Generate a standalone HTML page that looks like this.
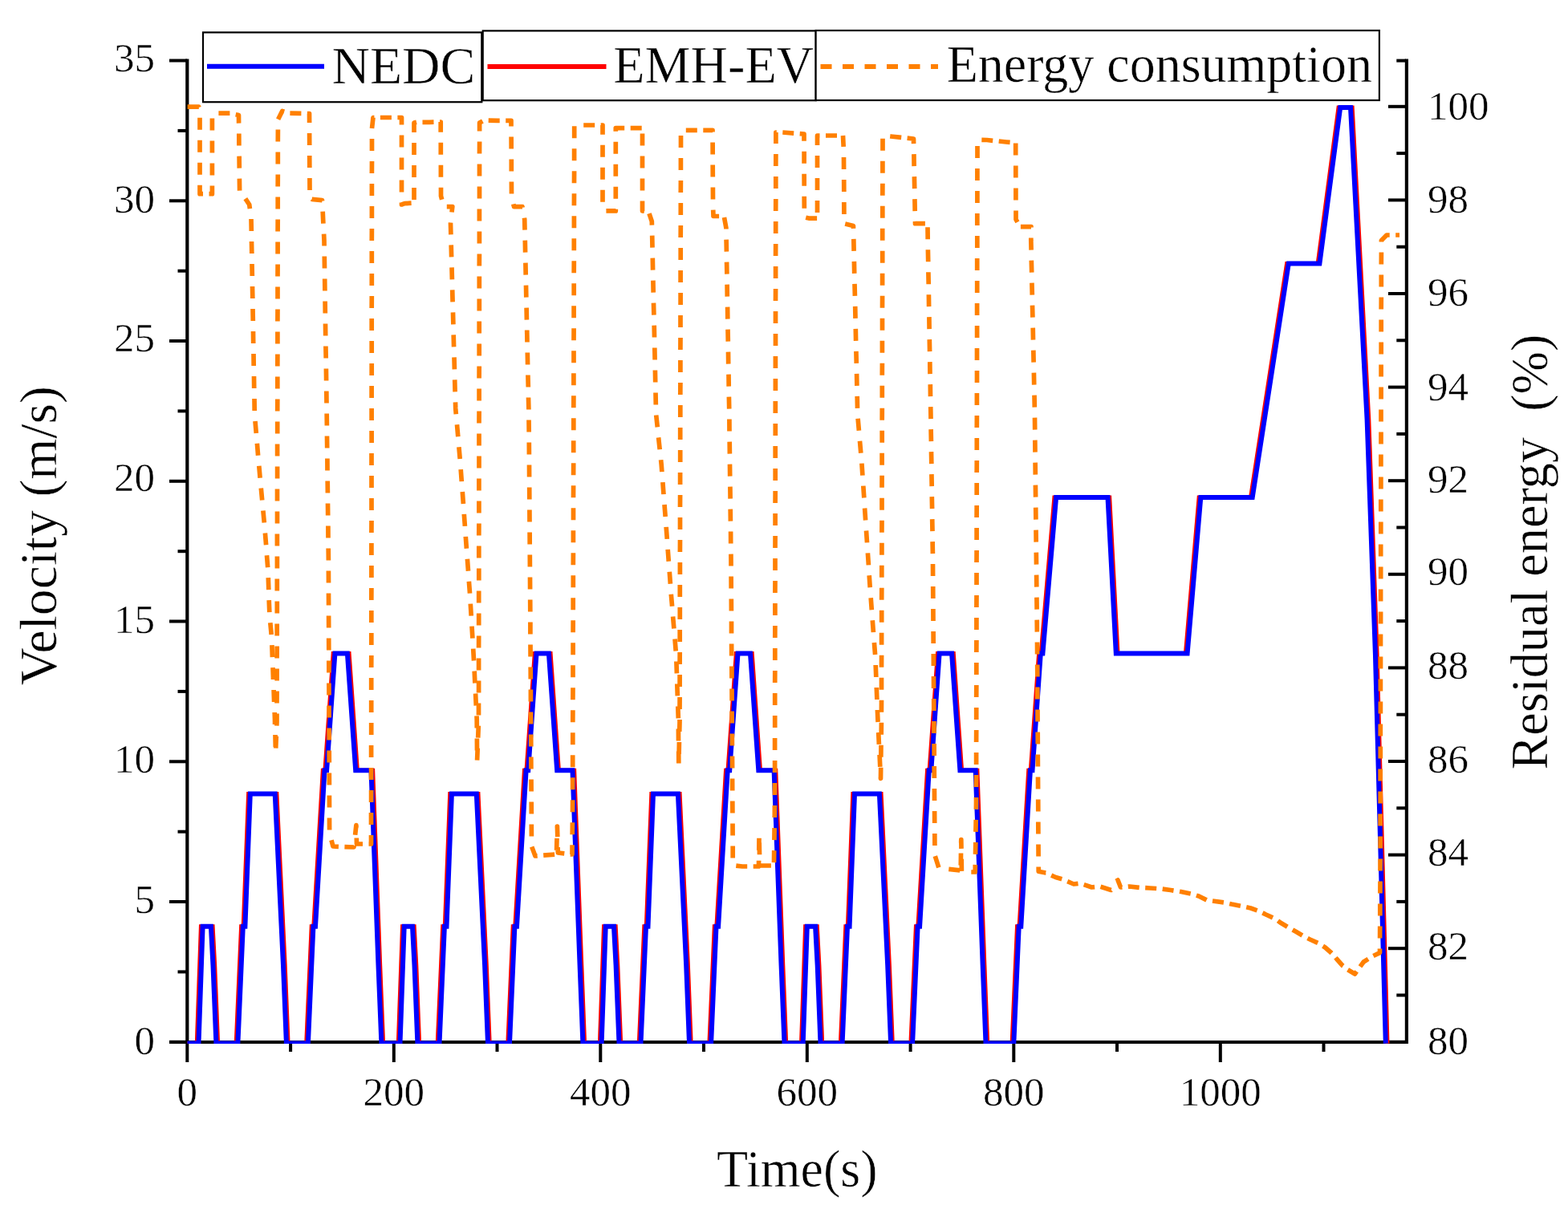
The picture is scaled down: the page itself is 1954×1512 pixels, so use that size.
<!DOCTYPE html>
<html><head><meta charset="utf-8"><title>NEDC velocity and residual energy</title>
<style>
html,body{margin:0;padding:0;background:#fff;}
body{width:1954px;height:1512px;overflow:hidden;}
svg{display:block;}
text{font-family:'Liberation Serif','Times New Roman',serif;fill:#000;stroke:#fff;stroke-width:0.5px;paint-order:normal;}
</style></head><body>
<svg width="1954" height="1512" viewBox="0 0 1954 1512">
<rect x="0" y="0" width="1954" height="1512" fill="#fff"/>
<line x1="233.3" y1="73.6" x2="233.3" y2="1301" stroke="#000" stroke-width="4.2" fill="none"/>
<line x1="1752.9" y1="73.6" x2="1752.9" y2="1301" stroke="#000" stroke-width="4.2" fill="none"/>
<line x1="211" y1="1299" x2="1755" y2="1299" stroke="#000" stroke-width="4.2" fill="none"/>
<line x1="211" y1="1298.8" x2="233" y2="1298.8" stroke="#000" stroke-width="4" fill="none"/>
<line x1="211" y1="1124.0" x2="233" y2="1124.0" stroke="#000" stroke-width="4" fill="none"/>
<line x1="211" y1="949.3" x2="233" y2="949.3" stroke="#000" stroke-width="4" fill="none"/>
<line x1="211" y1="774.5" x2="233" y2="774.5" stroke="#000" stroke-width="4" fill="none"/>
<line x1="211" y1="599.8" x2="233" y2="599.8" stroke="#000" stroke-width="4" fill="none"/>
<line x1="211" y1="425.0" x2="233" y2="425.0" stroke="#000" stroke-width="4" fill="none"/>
<line x1="211" y1="250.3" x2="233" y2="250.3" stroke="#000" stroke-width="4" fill="none"/>
<line x1="211" y1="75.5" x2="233" y2="75.5" stroke="#000" stroke-width="4" fill="none"/>
<line x1="221.5" y1="1211.4" x2="233" y2="1211.4" stroke="#000" stroke-width="4" fill="none"/>
<line x1="221.5" y1="1036.7" x2="233" y2="1036.7" stroke="#000" stroke-width="4" fill="none"/>
<line x1="221.5" y1="861.9" x2="233" y2="861.9" stroke="#000" stroke-width="4" fill="none"/>
<line x1="221.5" y1="687.2" x2="233" y2="687.2" stroke="#000" stroke-width="4" fill="none"/>
<line x1="221.5" y1="512.4" x2="233" y2="512.4" stroke="#000" stroke-width="4" fill="none"/>
<line x1="221.5" y1="337.7" x2="233" y2="337.7" stroke="#000" stroke-width="4" fill="none"/>
<line x1="221.5" y1="162.9" x2="233" y2="162.9" stroke="#000" stroke-width="4" fill="none"/>
<text x="193" y="88.5" font-size="51" text-anchor="end">35</text>
<text x="193" y="264.5" font-size="51" text-anchor="end">30</text>
<text x="193" y="438" font-size="51" text-anchor="end">25</text>
<text x="193" y="612.4" font-size="51" text-anchor="end">20</text>
<text x="193" y="789.3" font-size="51" text-anchor="end">15</text>
<text x="193" y="963" font-size="51" text-anchor="end">10</text>
<text x="193" y="1138" font-size="51" text-anchor="end">5</text>
<text x="193" y="1314.2" font-size="51" text-anchor="end">0</text>
<line x1="233.3" y1="1299" x2="233.3" y2="1324" stroke="#000" stroke-width="4" fill="none"/>
<line x1="362.1" y1="1299" x2="362.1" y2="1311" stroke="#000" stroke-width="4" fill="none"/>
<line x1="490.8" y1="1299" x2="490.8" y2="1324" stroke="#000" stroke-width="4" fill="none"/>
<line x1="619.5" y1="1299" x2="619.5" y2="1311" stroke="#000" stroke-width="4" fill="none"/>
<line x1="748.3" y1="1299" x2="748.3" y2="1324" stroke="#000" stroke-width="4" fill="none"/>
<line x1="877.0" y1="1299" x2="877.0" y2="1311" stroke="#000" stroke-width="4" fill="none"/>
<line x1="1005.8" y1="1299" x2="1005.8" y2="1324" stroke="#000" stroke-width="4" fill="none"/>
<line x1="1134.6" y1="1299" x2="1134.6" y2="1311" stroke="#000" stroke-width="4" fill="none"/>
<line x1="1263.3" y1="1299" x2="1263.3" y2="1324" stroke="#000" stroke-width="4" fill="none"/>
<line x1="1392.0" y1="1299" x2="1392.0" y2="1311" stroke="#000" stroke-width="4" fill="none"/>
<line x1="1520.8" y1="1299" x2="1520.8" y2="1324" stroke="#000" stroke-width="4" fill="none"/>
<line x1="1649.5" y1="1299" x2="1649.5" y2="1311" stroke="#000" stroke-width="4" fill="none"/>
<text x="233.3" y="1378" font-size="51" text-anchor="middle">0</text>
<text x="490.8" y="1378" font-size="51" text-anchor="middle">200</text>
<text x="748.3" y="1378" font-size="51" text-anchor="middle">400</text>
<text x="1005.8" y="1378" font-size="51" text-anchor="middle">600</text>
<text x="1263.3" y="1378" font-size="51" text-anchor="middle">800</text>
<text x="1520.8" y="1378" font-size="51" text-anchor="middle">1000</text>
<line x1="1730" y1="1298.8" x2="1752" y2="1298.8" stroke="#000" stroke-width="4" fill="none"/>
<line x1="1740.3" y1="1240.5" x2="1752" y2="1240.5" stroke="#000" stroke-width="4" fill="none"/>
<line x1="1730" y1="1182.2" x2="1752" y2="1182.2" stroke="#000" stroke-width="4" fill="none"/>
<line x1="1740.3" y1="1123.9" x2="1752" y2="1123.9" stroke="#000" stroke-width="4" fill="none"/>
<line x1="1730" y1="1065.6" x2="1752" y2="1065.6" stroke="#000" stroke-width="4" fill="none"/>
<line x1="1740.3" y1="1007.3" x2="1752" y2="1007.3" stroke="#000" stroke-width="4" fill="none"/>
<line x1="1730" y1="949.0" x2="1752" y2="949.0" stroke="#000" stroke-width="4" fill="none"/>
<line x1="1740.3" y1="890.7" x2="1752" y2="890.7" stroke="#000" stroke-width="4" fill="none"/>
<line x1="1730" y1="832.4" x2="1752" y2="832.4" stroke="#000" stroke-width="4" fill="none"/>
<line x1="1740.3" y1="774.1" x2="1752" y2="774.1" stroke="#000" stroke-width="4" fill="none"/>
<line x1="1730" y1="715.8" x2="1752" y2="715.8" stroke="#000" stroke-width="4" fill="none"/>
<line x1="1740.3" y1="657.5" x2="1752" y2="657.5" stroke="#000" stroke-width="4" fill="none"/>
<line x1="1730" y1="599.2" x2="1752" y2="599.2" stroke="#000" stroke-width="4" fill="none"/>
<line x1="1740.3" y1="540.9" x2="1752" y2="540.9" stroke="#000" stroke-width="4" fill="none"/>
<line x1="1730" y1="482.6" x2="1752" y2="482.6" stroke="#000" stroke-width="4" fill="none"/>
<line x1="1740.3" y1="424.3" x2="1752" y2="424.3" stroke="#000" stroke-width="4" fill="none"/>
<line x1="1730" y1="366.0" x2="1752" y2="366.0" stroke="#000" stroke-width="4" fill="none"/>
<line x1="1740.3" y1="307.7" x2="1752" y2="307.7" stroke="#000" stroke-width="4" fill="none"/>
<line x1="1730" y1="249.4" x2="1752" y2="249.4" stroke="#000" stroke-width="4" fill="none"/>
<line x1="1740.3" y1="191.1" x2="1752" y2="191.1" stroke="#000" stroke-width="4" fill="none"/>
<line x1="1730" y1="132.8" x2="1752" y2="132.8" stroke="#000" stroke-width="4" fill="none"/>
<line x1="1740.3" y1="75.6" x2="1752" y2="75.6" stroke="#000" stroke-width="4" fill="none"/>
<text x="1779" y="148.5" font-size="51">100</text>
<text x="1779" y="264.5" font-size="51">98</text>
<text x="1779" y="380.9" font-size="51">96</text>
<text x="1779" y="498.5" font-size="51">94</text>
<text x="1779" y="614.3" font-size="51">92</text>
<text x="1779" y="729.1" font-size="51">90</text>
<text x="1779" y="846" font-size="51">88</text>
<text x="1779" y="962.8" font-size="51">86</text>
<text x="1779" y="1079.3" font-size="51">84</text>
<text x="1779" y="1195.9" font-size="51">82</text>
<text x="1779" y="1314.4" font-size="51">80</text>
<defs><clipPath id="pa"><rect x="233.3" y="74" width="1519.6" height="1227"/></clipPath></defs>
<g clip-path="url(#pa)">
<polyline points="233.3,1300.6 245.3,1300.6 250.4,1154.8 265.1,1154.8 267.7,1203.4 271.6,1300.6 294.2,1300.6 300.6,1154.8 303.2,1154.8 309.6,989.5 344.9,989.5 355.2,1203.4 359.1,1300.6 381.7,1300.6 388.2,1154.8 390.8,1154.8 402.3,960.3 404.9,960.3 415.2,814.5 435.1,814.5 445.4,960.3 459.9,960.3 464.7,960.3 473.7,1203.4 477.6,1300.6 484.4,1300.6 496.3,1300.6 501.5,1154.8 516.2,1154.8 518.8,1203.4 522.6,1300.6 545.2,1300.6 551.7,1154.8 554.3,1154.8 560.7,989.5 596.0,989.5 606.3,1203.4 610.2,1300.6 632.8,1300.6 639.2,1154.8 641.8,1154.8 653.4,960.3 656.0,960.3 666.3,814.5 686.1,814.5 696.4,960.3 711.0,960.3 715.7,960.3 724.8,1203.4 728.6,1300.6 735.4,1300.6 747.4,1300.6 752.5,1154.8 767.2,1154.8 769.8,1203.4 773.7,1300.6 796.3,1300.6 802.8,1154.8 805.3,1154.8 811.8,989.5 847.1,989.5 857.4,1203.4 861.2,1300.6 883.9,1300.6 890.3,1154.8 892.9,1154.8 904.5,960.3 907.0,960.3 917.3,814.5 937.2,814.5 947.5,960.3 962.0,960.3 966.8,960.3 975.8,1203.4 979.7,1300.6 986.5,1300.6 998.5,1300.6 1003.6,1154.8 1018.3,1154.8 1020.9,1203.4 1024.7,1300.6 1047.4,1300.6 1053.8,1154.8 1056.4,1154.8 1062.8,989.5 1098.1,989.5 1108.4,1203.4 1112.3,1300.6 1134.9,1300.6 1141.4,1154.8 1143.9,1154.8 1155.5,960.3 1158.1,960.3 1168.4,814.5 1188.3,814.5 1198.6,960.3 1213.1,960.3 1217.9,960.3 1226.9,1203.4 1230.7,1300.6 1237.6,1300.6 1261.1,1300.6 1267.5,1154.8 1270.1,1154.8 1281.7,960.3 1284.3,960.3 1294.6,814.5 1297.2,814.5 1313.9,620.0 1382.7,620.0 1393.0,814.5 1477.4,814.5 1494.1,620.0 1558.5,620.0 1603.6,328.4 1642.2,328.4 1668.0,133.9 1685.2,133.9 1705.8,522.8 1716.1,814.5 1729.0,1300.6" fill="none" stroke="#ff0000" stroke-width="5" stroke-linejoin="miter"/>
<polyline points="233.3,1300.6 247.5,1300.6 252.6,1154.8 262.9,1154.8 265.5,1203.4 269.4,1300.6 296.4,1300.6 302.8,1154.8 305.4,1154.8 311.8,989.5 342.7,989.5 353.0,1203.4 356.9,1300.6 383.9,1300.6 390.4,1154.8 393.0,1154.8 404.5,960.3 407.1,960.3 417.4,814.5 432.9,814.5 443.2,960.3 459.9,960.3 462.5,960.3 471.5,1203.4 475.4,1300.6 484.4,1300.6 498.5,1300.6 503.7,1154.8 514.0,1154.8 516.5,1203.4 520.4,1300.6 547.5,1300.6 553.9,1154.8 556.5,1154.8 562.9,989.5 593.8,989.5 604.1,1203.4 608.0,1300.6 635.0,1300.6 641.4,1154.8 644.0,1154.8 655.6,960.3 658.2,960.3 668.5,814.5 683.9,814.5 694.2,960.3 711.0,960.3 713.5,960.3 722.6,1203.4 726.4,1300.6 735.4,1300.6 749.6,1300.6 754.7,1154.8 765.0,1154.8 767.6,1203.4 771.5,1300.6 798.5,1300.6 805.0,1154.8 807.5,1154.8 814.0,989.5 844.9,989.5 855.2,1203.4 859.0,1300.6 886.1,1300.6 892.5,1154.8 895.1,1154.8 906.7,960.3 909.2,960.3 919.5,814.5 935.0,814.5 945.3,960.3 962.0,960.3 964.6,960.3 973.6,1203.4 977.5,1300.6 986.5,1300.6 1000.7,1300.6 1005.8,1154.8 1016.1,1154.8 1018.7,1203.4 1022.5,1300.6 1049.6,1300.6 1056.0,1154.8 1058.6,1154.8 1065.0,989.5 1095.9,989.5 1106.2,1203.4 1110.1,1300.6 1137.1,1300.6 1143.6,1154.8 1146.1,1154.8 1157.7,960.3 1160.3,960.3 1170.6,814.5 1186.1,814.5 1196.4,960.3 1213.1,960.3 1215.7,960.3 1224.7,1203.4 1228.5,1300.6 1237.6,1300.6 1263.3,1300.6 1269.7,1154.8 1272.3,1154.8 1283.9,960.3 1286.5,960.3 1296.8,814.5 1299.4,814.5 1316.1,620.0 1380.5,620.0 1390.8,814.5 1479.6,814.5 1496.3,620.0 1560.7,620.0 1605.8,328.4 1644.4,328.4 1670.2,133.9 1683.0,133.9 1703.6,522.8 1713.9,814.5 1726.8,1300.6" fill="none" stroke="#0000ff" stroke-width="6" stroke-linejoin="miter" stroke-miterlimit="20"/>
<path d="M233.5,133.2 L247.8,133.2 L248.0,133.9M249.0,146.7 L249.0,161.7M249.0,174.7 L249.0,189.7M249.0,202.7 L249.0,217.7M249.0,230.7 L249.0,241.7 L253.0,241.7M260.5,241.7 L264.4,241.7 L264.4,231.6M264.4,218.6 L264.4,203.6M264.4,190.6 L264.4,175.6M264.4,162.6 L264.4,147.6M272.4,141.2 L286.4,141.2M293.7,142.7 L297.5,143.5 L297.6,153.6M297.8,166.6 L297.9,181.6M298.1,194.6 L298.3,209.6M298.4,222.6 L298.6,237.6M305.8,247.6 L310.7,255.0 L311.4,260.1M313.0,273.0 L313.3,288.0M313.5,301.0 L313.8,316.0M314.0,329.0 L314.3,344.0M314.5,357.0 L314.8,372.0M315.0,385.0 L315.3,400.0M315.5,413.0 L315.7,428.0M316.0,441.0 L316.2,456.0M316.5,469.0 L316.7,484.0M317.0,497.0 L317.2,512.0M318.0,524.9 L319.3,539.9M320.4,552.8 L321.6,567.8M322.8,580.7 L324.1,595.7M325.3,608.6 L326.7,623.5M327.9,636.5 L329.3,651.4M330.4,664.4 L331.6,679.3M332.5,692.3 L333.7,707.3M334.3,720.2 L334.8,735.2M335.2,748.2 L335.8,763.2M336.8,776.2 L338.2,791.1M338.9,804.1 L339.4,819.1M340.0,832.1 L340.5,847.0M341.1,860.0 L341.6,875.0M342.2,888.0 L342.5,896.8 L342.6,903.0M343.0,916.0 L343.3,931.0M343.7,932.6 L344.3,917.6M344.8,904.6 L345.0,900.0 L345.0,889.6M345.0,876.6 L345.1,861.6M345.1,848.6 L345.1,833.6M345.1,820.6 L345.2,805.6M345.2,792.6 L345.2,777.6M345.3,764.6 L345.3,749.6M345.3,736.6 L345.3,721.6M345.4,708.6 L345.4,693.6M345.4,680.6 L345.4,665.6M345.5,652.6 L345.5,637.6M345.5,624.6 L345.5,609.6M345.6,596.6 L345.6,581.6M345.6,568.6 L345.6,553.6M345.7,540.6 L345.7,525.6M345.7,512.6 L345.8,497.6M345.8,484.6 L345.8,469.6M345.8,456.6 L345.9,441.6M345.9,428.6 L345.9,413.6M345.9,400.6 L346.0,385.6M346.0,372.6 L346.0,357.6M346.0,344.6 L346.1,329.6M346.1,316.6 L346.1,301.6M346.1,288.6 L346.2,273.6M346.2,260.6 L346.2,245.6M346.2,232.6 L346.3,217.6M346.3,204.6 L346.3,189.6M346.3,176.6 L346.4,161.6M346.6,148.7 L351.7,138.5 L354.2,139.3M361.4,141.2 L375.4,141.4M382.9,141.5 L385.5,141.5 L385.6,152.9M385.6,165.9 L385.7,180.9M385.7,193.9 L385.8,208.9M385.9,221.9 L386.0,236.9M388.6,248.2 L388.7,248.3 L401.5,249.6 L401.6,250.6M402.2,263.6 L402.9,278.6M403.6,291.6 L404.0,300.0 L404.1,306.5M404.3,319.5 L404.5,334.5M404.7,347.5 L404.9,362.5M405.1,375.5 L405.3,390.5M405.5,403.5 L405.7,418.5M405.9,431.5 L406.2,446.5M406.4,459.5 L406.6,474.5M406.8,487.5 L407.0,502.5M407.2,515.5 L407.2,516.8 L407.4,530.5M407.5,543.5 L407.7,558.5M407.9,571.5 L408.0,586.5M408.2,599.5 L408.4,614.5M408.5,627.5 L408.7,642.5M408.9,655.5 L409.0,670.5M409.2,683.5 L409.4,698.5M409.4,711.5 L409.5,726.5M409.5,739.5 L409.6,754.5M409.6,767.5 L409.7,782.5M409.7,795.5 L409.8,810.5M409.8,823.5 L409.9,838.5M409.9,851.5 L410.0,866.5M410.0,879.5 L410.1,894.5M410.1,907.5 L410.2,922.5M410.2,935.5 L410.3,950.5M410.3,963.5 L410.4,978.5M410.4,991.5 L410.5,1006.5M410.5,1019.5 L410.6,1034.5M413.0,1047.2 L415.0,1055.0 L421.9,1055.3M429.4,1055.6 L441.0,1056.0 L441.3,1053.6M442.6,1040.7 L443.9,1028.6 L444.0,1031.5M444.3,1044.5 L444.5,1052.0 L452.0,1052.0M459.5,1052.0 L462.5,1052.0 L462.5,1041.0M462.5,1028.0 L462.5,1013.0M462.6,1000.0 L462.6,985.0M462.6,972.0 L462.6,957.0M462.6,944.0 L462.6,929.0M462.7,916.0 L462.7,901.0M462.7,888.0 L462.7,873.0M462.7,860.0 L462.7,845.0M462.7,832.0 L462.8,817.0M462.8,804.0 L462.8,789.0M462.8,776.0 L462.8,761.0M462.8,748.0 L462.9,733.0M462.9,720.0 L462.9,705.0M462.9,692.0 L462.9,677.0M462.9,664.0 L463.0,649.0M463.0,636.0 L463.0,621.0M463.0,608.0 L463.0,593.0M463.0,580.0 L463.0,565.0M463.1,552.0 L463.1,537.0M463.1,524.0 L463.1,509.0M463.1,496.0 L463.1,481.0M463.2,468.0 L463.2,453.0M463.2,440.0 L463.2,425.0M463.2,412.0 L463.2,397.0M463.2,384.0 L463.3,369.0M463.3,356.0 L463.3,341.0M463.3,328.0 L463.3,313.0M463.3,300.0 L463.4,285.0M463.4,272.0 L463.4,257.0M463.4,244.0 L463.4,229.0M463.4,216.0 L463.5,201.0M463.5,188.0 L463.5,173.0M463.5,160.0 L463.5,160.0 L465.0,146.5 L466.4,146.5M473.9,146.5 L487.9,146.5M495.4,146.5 L500.5,146.5 L500.5,155.4M500.5,168.4 L500.5,183.4M500.5,196.4 L500.5,211.4M500.5,224.4 L500.5,239.4M500.5,252.4 L500.5,255.0 L504.2,253.6 L512.6,253.2M516.0,248.9 L516.0,233.9M516.0,220.9 L516.0,205.9M516.0,192.9 L516.0,177.9M516.0,164.9 L516.0,153.0 L519.0,152.3 L519.0,152.3M526.5,152.3 L535.0,152.3 L540.5,152.2M548.0,152.0 L549.2,152.0 L549.2,164.8M549.3,177.8 L549.3,192.8M549.4,205.8 L549.4,220.8M549.5,233.8 L549.5,244.3 L550.7,248.7M556.8,257.6 L563.8,257.6 L563.0,264.5M561.6,277.5 L561.5,278.7 L561.9,292.4M562.2,305.4 L562.6,320.4M563.0,333.4 L563.4,348.4M563.7,361.4 L564.1,376.4M564.5,389.4 L564.9,404.4M565.2,417.4 L565.6,432.4M566.0,445.4 L566.4,460.4M566.7,473.4 L567.1,488.4M567.5,501.4 L567.7,508.9 L568.3,516.3M569.5,529.3 L570.8,544.2M571.9,557.2 L573.2,572.1M574.2,585.1 L575.3,600.1M576.3,613.0 L577.4,628.0M578.3,640.9 L579.4,655.9M580.3,668.9 L581.4,683.8M582.4,696.8 L583.5,711.8M584.4,724.7 L585.4,738.0 L585.5,739.7M586.3,752.7 L587.2,767.6M588.0,780.6 L588.9,795.6M589.7,808.6 L590.2,817.5 L590.5,823.5M591.2,836.5 L591.9,851.5M592.6,864.5 L593.3,879.5M594.0,892.4 L594.2,896.8 L594.3,907.4M594.4,920.4 L594.5,935.4M594.6,947.6 L595.2,932.6M595.7,919.6 L596.3,904.6M596.5,891.6 L596.5,876.6M596.6,863.6 L596.6,848.6M596.6,835.6 L596.6,820.6M596.6,807.6 L596.7,792.6M596.7,779.6 L596.7,764.6M596.7,751.6 L596.7,736.6M596.8,723.6 L596.8,708.6M596.8,695.6 L596.8,680.6M596.8,667.6 L596.9,652.6M596.9,639.6 L596.9,624.6M596.9,611.6 L596.9,596.6M597.0,583.6 L597.0,568.6M597.0,555.6 L597.0,540.6M597.0,527.6 L597.1,512.6M597.1,499.6 L597.1,484.6M597.1,471.6 L597.2,456.6M597.2,443.6 L597.2,428.6M597.2,415.6 L597.2,400.6M597.3,387.6 L597.3,372.6M597.3,359.6 L597.3,344.6M597.3,331.6 L597.4,316.6M597.4,303.6 L597.4,288.6M597.4,275.6 L597.4,260.6M597.5,247.6 L597.5,232.6M597.5,219.6 L597.5,204.6M597.5,191.6 L597.6,176.6M597.6,163.6 L597.6,153.0 L601.4,150.9M608.7,150.1 L620.0,150.4 L622.7,150.4M630.2,150.4 L637.0,150.4 L637.0,157.6M637.1,170.6 L637.2,185.6M637.3,198.6 L637.3,213.6M637.4,226.6 L637.5,241.6M639.8,254.4 L640.5,257.6 L651.0,257.6 L651.2,258.8M653.4,271.6 L653.7,273.4 L654.0,286.6M654.3,299.6 L654.6,314.6M654.9,327.6 L655.2,342.6M655.5,355.6 L655.8,370.6M656.1,383.6 L656.4,398.6M656.7,411.5 L657.0,426.5M657.3,439.5 L657.6,454.5M657.9,467.5 L658.3,482.5M658.5,495.5 L658.9,510.5M659.0,523.5 L659.2,538.5M659.3,551.5 L659.4,566.5M659.5,579.5 L659.6,594.5M659.7,607.5 L659.8,622.5M659.9,635.5 L660.0,650.5M660.1,663.5 L660.2,678.5M660.3,691.5 L660.4,706.5M660.5,719.5 L660.6,734.5M660.7,747.5 L660.8,762.5M660.9,775.5 L660.9,790.5M661.0,803.5 L661.1,818.5M661.2,831.5 L661.3,846.5M661.4,859.5 L661.4,874.5M661.5,887.5 L661.6,902.5M661.7,915.5 L661.8,930.5M661.8,943.5 L661.9,958.5M662.0,971.5 L662.1,986.5M662.2,999.5 L662.3,1014.5M662.3,1027.5 L662.4,1042.5M662.7,1055.5 L667.0,1067.0 L669.7,1066.8M677.2,1066.2 L691.1,1065.2M693.6,1059.9 L694.0,1044.9M694.4,1031.9 L694.4,1030.0 L694.8,1043.1M695.1,1056.1 L695.3,1063.0 L703.3,1063.9M710.8,1064.8 L713.0,1065.0 L713.1,1053.2M713.2,1040.2 L713.4,1025.2M713.5,1012.2 L713.6,1000.0 L713.6,997.2M713.6,984.2 L713.7,969.2M713.7,956.2 L713.7,941.2M713.8,928.2 L713.8,913.2M713.8,900.2 L713.9,885.2M713.9,872.2 L714.0,857.2M714.0,844.2 L714.0,829.2M714.1,816.2 L714.1,801.2M714.1,788.2 L714.2,773.2M714.2,760.2 L714.2,745.2M714.3,732.2 L714.3,717.2M714.3,704.2 L714.4,689.2M714.4,676.2 L714.4,661.2M714.5,648.2 L714.5,633.2M714.5,620.2 L714.6,605.2M714.6,592.2 L714.7,577.2M714.7,564.2 L714.7,549.2M714.8,536.2 L714.8,521.2M714.8,508.2 L714.9,493.2M714.9,480.2 L714.9,465.2M715.0,452.2 L715.0,437.2M715.0,424.2 L715.1,409.2M715.1,396.2 L715.1,381.2M715.2,368.2 L715.2,353.2M715.2,340.2 L715.3,325.2M715.3,312.2 L715.3,297.2M715.4,284.2 L715.4,269.2M715.4,256.2 L715.5,241.2M715.5,228.2 L715.6,213.2M715.6,200.2 L715.6,185.2M715.7,172.2 L715.7,157.2M727.2,156.0 L741.2,156.0M748.7,156.0 L751.0,156.0 L751.0,167.7M751.0,180.7 L751.0,195.7M751.0,208.7 L751.0,223.7M751.0,236.7 L751.0,251.7M755.4,262.9 L767.3,262.9 L767.3,260.8M767.3,247.8 L767.3,232.8M767.3,219.8 L767.3,204.8M767.3,191.8 L767.3,176.8M767.3,163.8 L767.3,159.7 L772.0,159.7 L778.2,159.7M785.7,159.7 L799.7,159.7M800.5,166.4 L800.5,181.4M800.5,194.4 L800.5,209.4M800.5,222.4 L800.5,237.4M800.5,250.4 L800.5,262.9 L802.9,263.3M809.0,266.1 L812.3,276.0 L812.4,280.6M812.7,293.6 L813.0,308.6M813.3,321.6 L813.6,336.6M813.9,349.6 L814.2,364.6M814.5,377.6 L814.9,392.6M815.2,405.6 L815.5,420.5M815.8,433.5 L816.1,448.5M816.4,461.5 L816.7,476.5M817.0,489.5 L817.3,504.5M817.7,517.5 L819.3,532.4M820.6,545.4 L822.2,560.3M823.6,573.2 L824.2,579.0 L824.9,588.1M825.9,601.1 L827.0,616.1M828.0,629.0 L829.2,644.0M830.2,656.9 L830.3,658.7 L831.3,671.9M832.2,684.9 L833.3,699.8M834.3,712.8 L835.4,727.8M836.3,740.7 L837.6,755.7M838.6,768.6 L839.9,783.6M841.0,796.5 L842.2,811.5M842.9,824.5 L843.4,839.4M843.8,852.4 L844.3,867.4M844.8,880.4 L845.3,895.4M845.4,908.4 L845.5,923.4M845.7,936.4 L845.8,951.4M846.1,940.0 L846.4,925.0M846.7,912.0 L847.0,900.0 L847.0,897.0M847.0,884.0 L847.1,869.0M847.1,856.0 L847.1,841.0M847.1,828.0 L847.2,813.0M847.2,800.0 L847.2,785.0M847.3,772.0 L847.3,757.0M847.3,744.0 L847.3,729.0M847.4,716.0 L847.4,701.0M847.4,688.0 L847.5,673.0M847.5,660.0 L847.5,645.0M847.5,632.0 L847.6,617.0M847.6,604.0 L847.6,589.0M847.7,576.0 L847.7,561.0M847.7,548.0 L847.7,533.0M847.8,520.0 L847.8,505.0M847.8,492.0 L847.9,477.0M847.9,464.0 L847.9,449.0M847.9,436.0 L848.0,421.0M848.0,408.0 L848.0,393.0M848.1,380.0 L848.1,365.0M848.1,352.0 L848.1,337.0M848.2,324.0 L848.2,309.0M848.2,296.0 L848.3,281.0M848.3,268.0 L848.3,253.0M848.3,240.0 L848.4,225.0M848.4,212.0 L848.4,197.0M848.5,184.0 L848.5,169.0M854.8,162.3 L855.0,162.3 L868.8,162.3M876.3,162.3 L888.0,162.3 L888.0,164.6M888.1,177.6 L888.2,192.6M888.2,205.6 L888.3,220.6M888.4,233.6 L888.5,248.6M888.7,261.6 L889.0,269.5 L896.1,269.5M902.5,270.9 L904.9,284.0 L904.9,285.6M905.1,298.6 L905.4,313.6M905.6,326.6 L905.9,341.6M906.1,354.6 L906.3,369.6M906.6,382.6 L906.8,397.6M907.0,410.6 L907.3,425.6M907.5,438.6 L907.7,453.6M908.0,466.6 L908.2,481.6M908.4,494.6 L908.7,509.6M908.9,522.6 L909.0,537.6M909.2,550.6 L909.4,565.6M909.5,578.6 L909.7,593.6M909.9,606.6 L910.1,621.6M910.2,634.6 L910.4,649.6M910.6,662.6 L910.7,677.6M910.9,690.6 L911.0,700.0 L911.0,705.6M911.1,718.6 L911.2,733.6M911.3,746.6 L911.4,761.6M911.5,774.6 L911.5,789.6M911.6,802.6 L911.7,817.6M911.8,830.6 L911.9,845.6M912.0,858.6 L912.1,873.6M912.1,886.6 L912.2,901.6M912.3,914.6 L912.4,929.6M912.5,942.6 L912.6,957.6M912.6,970.6 L912.7,985.6M912.8,998.6 L912.9,1013.6M913.0,1026.6 L913.1,1041.6M913.2,1054.6 L913.2,1069.6M917.3,1079.1 L925.0,1080.0 L931.2,1080.0M938.7,1080.0 L945.5,1080.0 L945.6,1072.8M945.8,1059.8 L946.0,1044.8M946.2,1050.2 L946.5,1065.2M946.7,1078.2 L946.7,1079.0 L960.9,1079.0M964.5,1075.1 L964.7,1060.1M964.9,1047.1 L965.1,1032.1M965.3,1019.1 L965.4,1004.1M965.5,991.1 L965.5,976.1M965.6,963.1 L965.6,948.1M965.6,935.1 L965.6,920.1M965.7,907.1 L965.7,892.1M965.7,879.1 L965.7,864.1M965.7,851.1 L965.8,836.1M965.8,823.1 L965.8,808.1M965.8,795.1 L965.9,780.1M965.9,767.1 L965.9,752.1M965.9,739.1 L966.0,724.1M966.0,711.1 L966.0,696.1M966.0,683.1 L966.1,668.1M966.1,655.1 L966.1,640.1M966.1,627.1 L966.2,612.1M966.2,599.1 L966.2,584.1M966.2,571.1 L966.2,556.1M966.3,543.1 L966.3,528.1M966.3,515.1 L966.3,500.1M966.4,487.1 L966.4,472.1M966.4,459.1 L966.4,444.1M966.5,431.1 L966.5,416.1M966.5,403.1 L966.5,388.1M966.5,375.1 L966.6,360.1M966.6,347.1 L966.6,332.1M966.6,319.1 L966.7,304.1M966.7,291.1 L966.7,276.1M966.7,263.1 L966.8,248.1M966.8,235.1 L966.8,220.1M966.8,207.1 L966.9,192.1M966.9,179.1 L966.9,165.0 L967.8,165.0M975.3,165.0 L989.2,166.1M996.7,166.6 L1002.0,167.0 L1002.0,175.7M1002.1,188.7 L1002.1,203.7M1002.1,216.7 L1002.2,231.7M1002.2,244.7 L1002.3,259.7M1004.2,271.2 L1007.9,272.1 L1018.1,272.1M1018.5,265.0 L1018.5,250.0M1018.5,237.0 L1018.5,222.0M1018.5,209.0 L1018.5,194.0M1018.5,181.0 L1018.5,169.0 L1021.5,169.0M1029.0,169.0 L1043.0,169.0M1050.5,169.0 L1050.5,169.0 L1051.2,182.9M1051.5,195.9 L1051.6,210.9M1051.7,223.9 L1051.8,238.9M1051.8,251.9 L1051.9,266.9M1053.2,279.0 L1063.4,281.4 L1063.5,284.9M1063.8,297.9 L1064.1,312.9M1064.4,325.9 L1064.7,340.9M1065.0,353.9 L1065.4,368.9M1065.7,381.9 L1066.0,396.9M1066.3,409.9 L1066.6,424.9M1066.9,437.9 L1067.3,452.9M1067.6,465.9 L1067.9,480.9M1068.2,493.9 L1068.5,508.9M1069.1,521.8 L1070.4,536.8M1071.5,549.7 L1072.8,564.7M1073.9,577.6 L1074.0,579.0 L1074.9,592.6M1075.8,605.6 L1076.8,620.5M1077.6,633.5 L1078.6,648.5M1079.5,661.5 L1080.5,676.4M1081.4,689.4 L1082.4,704.4M1083.2,717.3 L1084.2,732.3M1085.2,745.3 L1086.3,760.2M1087.3,773.2 L1088.4,788.1M1089.4,801.1 L1090.6,816.1M1091.2,829.0 L1091.8,844.0M1092.3,857.0 L1092.9,872.0M1093.4,885.0 L1093.9,896.8 L1094.1,900.0M1094.7,913.0 L1095.4,927.9M1096.1,940.9 L1096.8,955.9M1097.4,968.9 L1097.5,970.3 L1097.7,956.7M1097.8,943.7 L1098.0,928.7M1098.2,915.7 L1098.4,900.7M1098.4,887.7 L1098.5,872.7M1098.5,859.7 L1098.5,844.7M1098.5,831.7 L1098.6,816.7M1098.6,803.7 L1098.6,788.7M1098.7,775.7 L1098.7,760.7M1098.7,747.7 L1098.8,732.7M1098.8,719.7 L1098.8,704.7M1098.9,691.7 L1098.9,676.7M1098.9,663.7 L1099.0,648.7M1099.0,635.7 L1099.0,620.7M1099.0,607.7 L1099.1,592.7M1099.1,579.7 L1099.1,564.7M1099.2,551.7 L1099.2,536.7M1099.2,523.7 L1099.3,508.7M1099.3,495.7 L1099.3,480.7M1099.3,467.7 L1099.4,452.7M1099.4,439.7 L1099.4,424.7M1099.5,411.7 L1099.5,396.7M1099.5,383.7 L1099.6,368.7M1099.6,355.7 L1099.6,340.7M1099.7,327.7 L1099.7,312.7M1099.7,299.7 L1099.7,284.7M1099.8,271.7 L1099.8,256.7M1099.8,243.7 L1099.9,228.7M1099.9,215.7 L1099.9,200.7M1100.0,187.7 L1100.0,172.7M1109.2,169.9 L1110.0,170.0 L1123.2,171.4M1130.6,172.2 L1138.5,173.0 L1138.6,179.1M1138.9,192.1 L1139.1,207.1M1139.4,220.1 L1139.7,235.1M1139.9,248.1 L1140.2,263.1M1140.5,276.1 L1140.5,278.7 L1152.9,278.7M1156.0,283.2 L1156.2,298.2M1156.4,311.2 L1156.7,326.2M1156.9,339.2 L1157.2,354.2M1157.4,367.2 L1157.6,382.1M1157.9,395.1 L1158.1,410.1M1158.3,423.1 L1158.6,438.1M1158.8,451.1 L1159.0,466.1M1159.3,479.1 L1159.5,494.1M1159.7,507.1 L1159.8,511.5 L1160.0,522.1M1160.1,535.1 L1160.4,550.1M1160.5,563.1 L1160.8,578.1M1160.9,591.1 L1161.2,606.1M1161.3,619.1 L1161.6,634.1M1161.7,647.1 L1162.0,662.1M1162.1,675.1 L1162.4,690.1M1162.5,703.1 L1162.6,718.1M1162.7,731.1 L1162.8,746.1M1162.9,759.1 L1163.0,774.1M1163.1,787.1 L1163.2,802.1M1163.3,815.1 L1163.4,830.1M1163.5,843.1 L1163.6,858.1M1163.7,871.1 L1163.8,886.1M1163.9,899.1 L1164.0,914.1M1164.1,927.1 L1164.2,942.1M1164.2,955.1 L1164.3,970.1M1164.4,983.1 L1164.5,998.1M1164.6,1011.1 L1164.7,1026.1M1164.8,1039.1 L1164.9,1054.1M1165.3,1067.1 L1169.8,1081.4M1182.3,1083.4 L1196.2,1084.9M1197.3,1078.5 L1197.5,1063.5M1197.7,1050.5 L1197.8,1046.7 L1198.0,1057.9M1198.2,1070.9 L1198.4,1085.9M1210.3,1087.0 L1215.2,1087.0 L1215.3,1077.9M1215.5,1064.9 L1215.8,1049.9M1215.9,1036.9 L1216.2,1021.9M1216.4,1008.9 L1216.5,1000.0 L1216.5,993.9M1216.5,980.9 L1216.6,965.9M1216.6,952.9 L1216.6,937.9M1216.6,924.9 L1216.7,909.9M1216.7,896.9 L1216.7,881.9M1216.7,868.9 L1216.8,853.9M1216.8,840.9 L1216.8,825.9M1216.8,812.9 L1216.9,797.9M1216.9,784.9 L1216.9,769.9M1216.9,756.9 L1217.0,741.9M1217.0,728.9 L1217.0,713.9M1217.0,700.9 L1217.1,685.9M1217.1,672.9 L1217.1,657.9M1217.1,644.9 L1217.2,629.9M1217.2,616.9 L1217.2,601.9M1217.2,588.9 L1217.3,573.9M1217.3,560.9 L1217.3,545.9M1217.3,532.9 L1217.4,517.9M1217.4,504.9 L1217.4,489.9M1217.5,476.9 L1217.5,461.9M1217.5,448.9 L1217.5,433.9M1217.6,420.9 L1217.6,405.9M1217.6,392.9 L1217.6,377.9M1217.7,364.9 L1217.7,349.9M1217.7,336.9 L1217.7,321.9M1217.8,308.9 L1217.8,293.9M1217.8,280.9 L1217.8,265.9M1217.9,252.9 L1217.9,237.9M1217.9,224.9 L1217.9,209.9M1218.0,196.9 L1218.0,181.9M1223.3,174.3 L1230.0,174.5 L1237.2,175.3M1244.7,176.0 L1254.0,177.0 L1258.6,177.4M1265.7,178.4 L1265.7,193.4M1265.8,206.4 L1265.8,221.4M1265.9,234.4 L1265.9,249.4M1266.0,262.4 L1266.0,273.4 L1267.9,276.9M1271.9,282.7 L1285.0,282.7 L1285.0,283.6M1284.8,296.6 L1284.8,299.9 L1285.1,311.6M1285.3,324.6 L1285.7,339.6M1285.9,352.6 L1286.3,367.6M1286.5,380.6 L1286.9,395.6M1287.2,408.6 L1287.5,423.6M1287.8,436.6 L1288.1,451.6M1288.4,464.6 L1288.7,479.6M1289.0,492.6 L1289.3,507.6M1289.5,520.6 L1289.7,535.6M1289.8,548.6 L1290.0,563.6M1290.1,576.6 L1290.3,591.6M1290.4,604.6 L1290.6,619.6M1290.7,632.6 L1290.9,647.6M1291.0,660.6 L1291.2,675.6M1291.3,688.6 L1291.5,703.6M1291.6,716.6 L1291.8,731.6M1291.9,744.6 L1292.1,759.6M1292.2,772.6 L1292.4,787.6M1292.5,800.6 L1292.6,815.6M1292.7,828.6 L1292.8,843.6M1292.8,856.5 L1292.9,871.5M1293.0,884.5 L1293.1,899.5M1293.2,912.5 L1293.3,927.5M1293.3,940.5 L1293.4,955.5M1293.5,968.5 L1293.6,983.5M1293.7,996.5 L1293.8,1011.5M1293.8,1024.5 L1293.9,1039.5M1294.0,1052.5 L1294.1,1067.5M1294.2,1080.5 L1294.2,1086.3 L1303.2,1088.0 L1303.3,1088.0M1310.1,1091.1 L1315.5,1093.5 L1323.3,1095.8M1330.2,1098.7 L1338.0,1102.0 L1343.5,1101.3M1350.7,1102.6 L1360.5,1106.0 L1364.1,1105.6M1371.5,1105.3 L1384.7,1109.5 L1384.8,1109.4M1390.9,1098.4 L1393.0,1097.0 L1396.5,1106.0 L1398.4,1105.8M1405.8,1105.2 L1407.6,1105.0 L1419.7,1106.3M1427.2,1106.7 L1433.0,1107.0 L1441.2,1107.5M1448.7,1108.1 L1458.8,1109.5 L1462.5,1110.1M1470.0,1111.2 L1471.8,1111.5 L1483.7,1114.0M1490.9,1116.1 L1493.8,1117.0 L1503.6,1121.9M1511.0,1123.0 L1524.9,1124.9M1532.2,1126.4 L1534.7,1127.0 L1545.9,1129.3M1553.2,1130.8 L1558.6,1132.0 L1566.6,1134.9M1573.4,1137.9 L1577.6,1140.0 L1586.1,1143.9M1592.5,1147.7 L1595.5,1150.0 L1604.3,1155.2M1610.8,1158.9 L1614.5,1161.0 L1622.9,1166.0M1629.5,1169.5 L1632.5,1171.0 L1642.2,1175.4M1648.6,1179.3 L1651.4,1181.0 L1659.4,1188.0 L1659.5,1188.1M1664.4,1193.8 L1665.4,1195.0 L1673.4,1204.0 L1673.7,1204.2M1679.6,1208.7 L1688.4,1214.0 L1690.6,1210.9M1695.0,1204.9 L1699.3,1199.0 L1705.0,1195.4M1711.4,1191.5 L1719.5,1187.6 L1719.5,1182.6M1719.6,1169.6 L1719.7,1154.6M1719.8,1141.6 L1719.8,1126.6M1719.9,1113.6 L1720.0,1100.0 L1720.0,1098.6M1720.0,1085.6 L1720.1,1070.6M1720.1,1057.6 L1720.1,1042.6M1720.1,1029.6 L1720.1,1014.6M1720.2,1001.6 L1720.2,986.6M1720.2,973.6 L1720.2,958.6M1720.3,945.6 L1720.3,930.6M1720.3,917.6 L1720.3,902.6M1720.4,889.6 L1720.4,874.6M1720.4,861.6 L1720.4,846.6M1720.5,833.6 L1720.5,818.6M1720.5,805.6 L1720.5,790.6M1720.6,777.6 L1720.6,762.6M1720.6,749.6 L1720.6,734.6M1720.7,721.6 L1720.7,706.6M1720.7,693.6 L1720.7,678.6M1720.8,665.6 L1720.8,650.6M1720.8,637.6 L1720.8,622.6M1720.9,609.6 L1720.9,594.6M1720.9,581.6 L1720.9,566.6M1721.0,553.6 L1721.0,538.6M1721.0,525.6 L1721.0,510.6M1721.1,497.6 L1721.1,482.6M1721.1,469.6 L1721.1,454.6M1721.2,441.6 L1721.2,426.6M1721.2,413.6 L1721.2,398.6M1721.2,385.6 L1721.3,370.6M1721.3,357.6 L1721.3,342.6M1721.3,329.6 L1721.4,314.6M1721.4,301.6 L1721.4,299.7 L1728.0,293.0 L1731.7,293.0M1739.2,293.0 L1744.0,293.0" fill="none" stroke="#ff8000" stroke-width="5.7" stroke-linejoin="round"/>
</g>
<text x="893.1" y="1478.9" font-size="64.5" textLength="200.5" lengthAdjust="spacingAndGlyphs">Time(s)</text>
<text transform="translate(69.6,854.6) rotate(-90)" font-size="64.5" textLength="373.5" lengthAdjust="spacingAndGlyphs">Velocity (m/s)</text>
<text transform="translate(1927.6,959.6) rotate(-90)" font-size="64.5" textLength="543.1" lengthAdjust="spacingAndGlyphs" xml:space="preserve">Residual energy  (%)</text>
<rect x="253" y="40.4" width="347.3" height="86.8" stroke="#000" stroke-width="2.2" fill="#fff"/>
<rect x="601.7" y="38.4" width="415" height="86.8" stroke="#000" stroke-width="2.2" fill="#fff"/>
<rect x="1016.6" y="38" width="702.3" height="87" stroke="#000" stroke-width="2.2" fill="#fff"/>
<line x1="258" y1="82.8" x2="404" y2="82.8" stroke="#0000ff" stroke-width="6"/>
<line x1="607.5" y1="83" x2="755.5" y2="83" stroke="#ff0000" stroke-width="6"/>
<line x1="1022.5" y1="83" x2="1169" y2="83" stroke="#ff8000" stroke-width="6" stroke-dasharray="14 13.5"/>
<text x="413.4" y="104.2" font-size="64.5" textLength="179.1" lengthAdjust="spacingAndGlyphs">NEDC</text>
<text x="764.3" y="102.5" font-size="64.5" textLength="249.7" lengthAdjust="spacingAndGlyphs">EMH-EV</text>
<text x="1179.7" y="102" font-size="64.5" textLength="530.2" lengthAdjust="spacingAndGlyphs">Energy consumption</text>
</svg>
</body></html>
